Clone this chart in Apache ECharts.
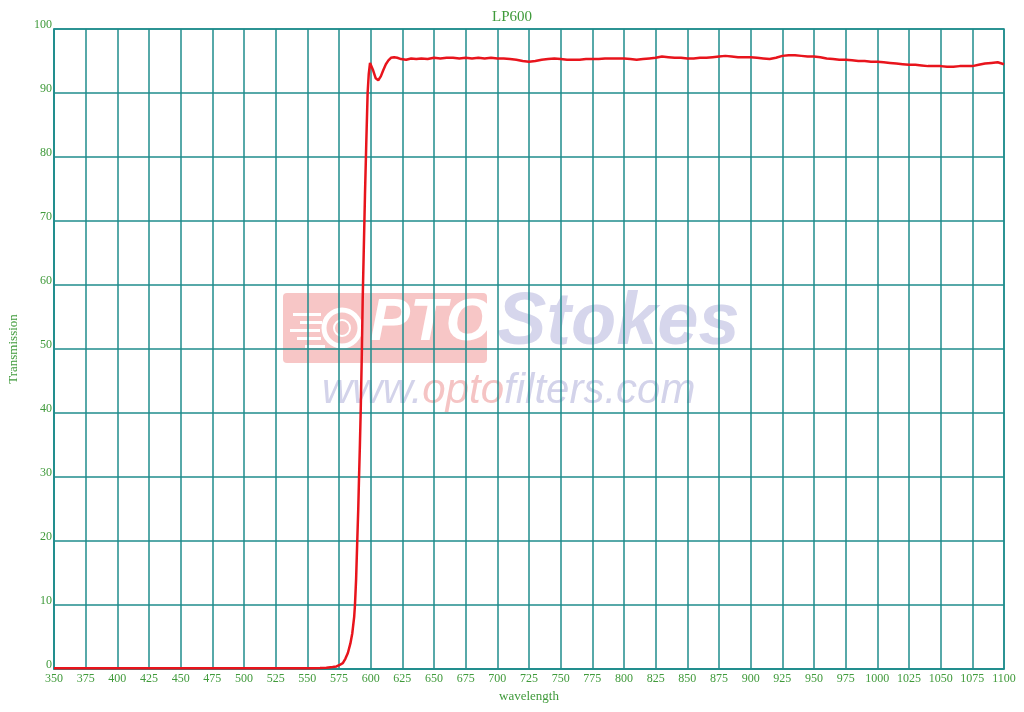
<!DOCTYPE html>
<html>
<head>
<meta charset="utf-8">
<script src="https://cdn.jsdelivr.net/npm/echarts@6/dist/echarts.min.js"></script>
<style>html,body{margin:0;padding:0;background:#fff}#c{width:1024px;height:712px}</style>
</head>
<body>
<div id="c"></div>
<script>
const title = 'LP600';
const xName = 'wavelength';
const yName = 'Transmission';
const wavelength = [350,375,400,425,450,475,500,525,550,560,565,570,573,576,578,580,582,584,585.5,587,587.6,588.5,589.4,590.2,590.8,591.5,592.1,593,593.7,594.5,595.5,596.6,597.6,598.5,599.5,600.5,602,604,606,608,610,612,614,616,618.5,621,624,628,632,636,640,645,650,655,660,665,670,675,680,685,690,695,700,705,710,715,720,725,730,735,740,745,750,755,760,765,770,775,780,785,790,795,800,805,810,815,820,825,830,835,840,845,850,855,860,865,870,875,880,885,890,895,900,905,910,915,920,925,930,935,940,945,950,955,960,965,970,975,980,985,990,995,1000,1005,1010,1015,1020,1025,1030,1035,1040,1045,1050,1055,1060,1065,1070,1075,1080,1085,1090,1095,1100];
const transmission = [0.1,0.1,0.1,0.1,0.1,0.1,0.1,0.1,0.1,0.15,0.2,0.3,0.4,0.7,0.9,1.6,2.5,4.0,5.6,8.2,10,14,19.9,25,29.8,35,40,49,57.7,65,74,82.7,90,93,94.7,94.5,93.5,92.3,92.0,92.6,93.6,94.5,95.1,95.5,95.6,95.5,95.3,95.2,95.4,95.3,95.4,95.3,95.5,95.4,95.5,95.5,95.4,95.5,95.4,95.5,95.4,95.5,95.4,95.4,95.3,95.2,95.0,94.9,95.0,95.2,95.3,95.4,95.3,95.2,95.2,95.2,95.3,95.3,95.3,95.4,95.4,95.4,95.4,95.3,95.2,95.3,95.4,95.5,95.7,95.6,95.5,95.5,95.4,95.4,95.5,95.5,95.6,95.7,95.8,95.7,95.6,95.6,95.6,95.5,95.4,95.3,95.5,95.8,95.9,95.9,95.8,95.7,95.7,95.6,95.4,95.3,95.2,95.2,95.1,95.0,95.0,94.9,94.9,94.8,94.7,94.6,94.5,94.4,94.4,94.3,94.2,94.2,94.2,94.1,94.1,94.2,94.2,94.2,94.4,94.6,94.7,94.8,94.5];

const green = '#3f9a3a';
const teal = '#1f8d8d';
const serif = '"Liberation Serif", "Times New Roman", serif';
const wmFont = '"Liberation Sans", Arial, sans-serif';

const chart = echarts.init(document.getElementById('c'));
chart.setOption({
  animation: false,
  backgroundColor: '#fff',
  title: {
    text: title, left: 'center', top: 5,
    textStyle: { color: green, fontFamily: serif, fontSize: 15, fontWeight: 'normal' }
  },
  grid: { left: 54, right: 20, top: 29, bottom: 43, outerBoundsMode: 'none', containLabel: false,
          show: true, borderColor: teal, borderWidth: 1.5 },
  xAxis: {
    type: 'value', min: 350, max: 1100, interval: 25,
    name: xName, nameLocation: 'middle', nameGap: 18,
    nameTextStyle: { color: green, fontFamily: serif, fontSize: 13 },
    axisLine: { show: true, lineStyle: { color: teal, width: 1.5 } },
    axisTick: { show: false },
    axisLabel: { color: green, fontFamily: serif, fontSize: 12, margin: 4, formatter: v => String(v) },
    splitLine: { show: true, lineStyle: { color: teal, width: 1.5 } }
  },
  yAxis: {
    type: 'value', min: 0, max: 100, interval: 10,
    name: yName, nameLocation: 'middle', nameGap: 34,
    nameTextStyle: { color: green, fontFamily: serif, fontSize: 13 },
    axisLine: { show: true, lineStyle: { color: teal, width: 1.5 } },
    axisTick: { show: false },
    axisLabel: { color: green, fontFamily: serif, fontSize: 12, margin: 2, verticalAlign: 'bottom', lineHeight: 8, formatter: v => String(v) },
    splitLine: { show: true, lineStyle: { color: teal, width: 1.5 } }
  },
  graphic: [
    { type: 'rect', z: -10, shape: { x: 283, y: 293, width: 204, height: 70, r: 4 }, style: { fill: '#f7c6c6' } },
    { type: 'circle', z: -9, shape: { cx: 342, cy: 328, r: 18 }, style: { fill: 'none', stroke: '#fff', lineWidth: 5 } },
    { type: 'circle', z: -9, shape: { cx: 342, cy: 328, r: 8 }, style: { fill: 'none', stroke: '#fff', lineWidth: 2 } },
    { type: 'rect', z: -9, shape: { x: 293, y: 313, width: 28, height: 3 }, style: { fill: '#fff' } },
    { type: 'rect', z: -9, shape: { x: 300, y: 321, width: 22, height: 3 }, style: { fill: '#fff' } },
    { type: 'rect', z: -9, shape: { x: 290, y: 329, width: 30, height: 3 }, style: { fill: '#fff' } },
    { type: 'rect', z: -9, shape: { x: 297, y: 337, width: 24, height: 3 }, style: { fill: '#fff' } },
    { type: 'rect', z: -9, shape: { x: 305, y: 345, width: 20, height: 3 }, style: { fill: '#fff' } },
    { type: 'text', z: -9, left: 370, top: 293, style: { text: 'PTO', fill: '#fff', font: 'italic bold 60px ' + wmFont } },
    { type: 'text', z: -9, left: 497, top: 287, style: { text: 'Stokes', fill: '#d6d6ec', font: 'italic bold 74px ' + wmFont } },
    { type: 'text', z: -9, left: 322, top: 370, style: {
        text: '{a|www.}{b|opto}{a|filters.com}',
        rich: {
          a: { fill: '#d3d3ea', font: 'italic 42px ' + wmFont },
          b: { fill: '#f5c4c4', font: 'italic 42px ' + wmFont }
        }
      } }
  ],
  series: [{
    type: 'line', showSymbol: false, symbol: 'none', smooth: false,
    data: wavelength.map((w, i) => [w, transmission[i]]),
    lineStyle: { color: '#e8141c', width: 2.5 },
    z: 5
  }]
});
</script>
</body>
</html>
